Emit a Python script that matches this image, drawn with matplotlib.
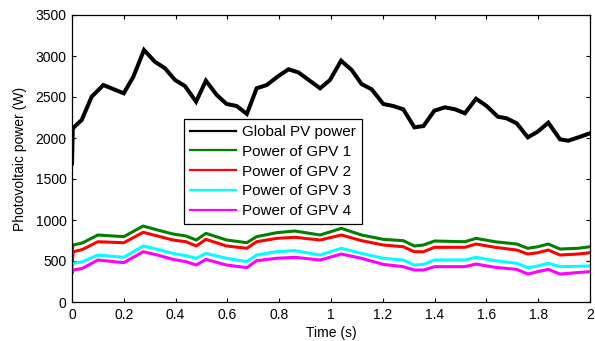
import matplotlib
matplotlib.use('Agg')
import matplotlib.pyplot as plt
from matplotlib.lines import Line2D

plt.rcParams['font.family'] = ['Liberation Sans', 'DejaVu Sans']

# global PV power (W) over time (s)
t_global = [0, 0.003, 0.0375, 0.076, 0.121, 0.2, 0.237, 0.278, 0.32, 0.359,
            0.398, 0.436, 0.479, 0.517, 0.559, 0.597, 0.636, 0.675, 0.713, 0.752,
            0.797, 0.836, 0.874, 0.958, 0.996, 1.039, 1.08, 1.118, 1.157, 1.202,
            1.24, 1.279, 1.322, 1.357, 1.399, 1.44, 1.479, 1.517, 1.56, 1.601,
            1.644, 1.678, 1.717, 1.76, 1.798, 1.839, 1.884, 1.916, 1.955, 2.0]
p_global = [1690, 2118, 2220, 2504, 2646, 2545, 2748, 3073, 2930, 2850,
            2707, 2634, 2443, 2699, 2524, 2415, 2390, 2293, 2606, 2646,
            2756, 2838, 2800, 2606, 2707, 2943, 2829, 2658, 2594, 2415,
            2390, 2350, 2130, 2146, 2333, 2374, 2350, 2301, 2479, 2390,
            2260, 2240, 2179, 2008, 2077, 2187, 1984, 1967, 2008, 2057]

# power of each GPV
t_gpv = [0, 0.005, 0.04, 0.1, 0.2, 0.275, 0.33, 0.39, 0.44, 0.48,
         0.517, 0.597, 0.675, 0.713, 0.79, 0.86, 0.958, 1.04, 1.118, 1.202,
         1.279, 1.322, 1.357, 1.4, 1.517, 1.56, 1.633, 1.717, 1.76, 1.798,
         1.839, 1.884, 1.955, 2.0]
p_gpv1 = [630, 695, 720, 817, 797, 927, 878, 829, 805, 756,
          837, 756, 723, 797, 845, 866, 817, 898, 817, 764,
          748, 683, 695, 744, 735, 776, 735, 707, 655, 674,
          707, 646, 655, 674]
p_gpv2 = [470, 613, 640, 735, 723, 850, 805, 756, 735, 683,
          764, 683, 655, 735, 776, 789, 756, 817, 748, 695,
          674, 613, 613, 667, 667, 707, 667, 634, 585, 601,
          634, 573, 585, 601]
p_gpv3 = [410, 472, 490, 573, 545, 683, 642, 593, 565, 533,
          593, 533, 492, 573, 613, 626, 573, 655, 593, 533,
          512, 451, 459, 512, 512, 545, 504, 472, 419, 439,
          472, 431, 435, 439]
p_gpv4 = [350, 390, 410, 512, 480, 613, 573, 520, 492, 451,
          520, 451, 419, 504, 533, 545, 512, 585, 533, 459,
          431, 390, 390, 431, 431, 463, 423, 398, 341, 370,
          398, 341, 360, 370]

labels = ['Global PV power', 'Power of GPV 1', 'Power of GPV 2',
          'Power of GPV 3', 'Power of GPV 4']
colors = ['black', '#008000', '#ff0000', '#00ffff', '#ff00ff']

fig = plt.figure(figsize=(5.95, 3.41), dpi=100)
ax = fig.add_axes([72/595, 39/341, 518/595, 287/341])

ax.plot(t_global, p_global, color=colors[0], lw=2.9, solid_joinstyle='miter')
for p, c in zip([p_gpv1, p_gpv2, p_gpv3, p_gpv4], colors[1:]):
    ax.plot(t_gpv, p, color=c, lw=2.2)

ax.set_xlim(0, 2)
ax.set_ylim(0, 3500)
ax.set_xticks([0, 0.2, 0.4, 0.6, 0.8, 1, 1.2, 1.4, 1.6, 1.8, 2])
ax.set_xticklabels(['0', '0.2', '0.4', '0.6', '0.8', '1', '1.2', '1.4', '1.6', '1.8', '2'])
ax.set_yticks(range(0, 3501, 500))
ax.tick_params(direction='in', length=3, width=0.8, top=True, right=True,
               labelsize=10, pad=4)
for s in ax.spines.values():
    s.set_linewidth(0.9)

ax.set_xlabel('Time (s)', fontsize=10, labelpad=3)
ax.set_ylabel('Photovoltaic power (W)', fontsize=10, labelpad=6)

handles = [Line2D([], [], color=c, lw=1.6) for c in colors]
leg = ax.legend(handles, labels, loc='upper left', bbox_to_anchor=(0.216, 0.638),
                fontsize=11, frameon=True, fancybox=False, framealpha=1,
                edgecolor='black', handlelength=3.0, handletextpad=0.4,
                labelspacing=0.38, borderpad=0.4, borderaxespad=0)
leg.get_frame().set_linewidth(0.9)

fig.savefig('out.png', dpi=100)
